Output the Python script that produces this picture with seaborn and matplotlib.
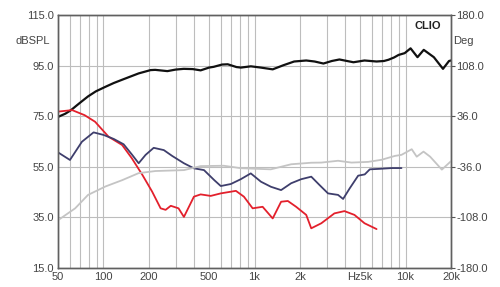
import numpy as np
import pandas as pd
import seaborn as sns
import matplotlib.pyplot as plt
from matplotlib.ticker import FixedLocator, NullLocator

# --- data ----------------------------------------------------------------
spl_f = [50, 56, 61, 67, 72, 79, 89, 103, 117, 133, 150, 171, 205, 220, 265, 300, 340, 390, 440,
         500, 537, 610, 665, 760, 813, 946, 1100, 1320, 1550, 1830, 2200, 2500, 2860,
         3250, 3650, 4100, 4520, 5350, 6430, 7200, 7720, 8400, 9000, 9870, 10800,
         12000, 13200, 15400, 17700, 19400, 20000]
spl_db = [74.7, 76.0, 77.4, 79.4, 80.9, 82.8, 84.8, 86.6, 88.1, 89.4, 90.6, 91.9, 93.2, 93.3, 92.8,
          93.4, 93.7, 93.6, 93.1, 94.2, 94.5, 95.4, 95.5, 94.4, 94.2, 94.7, 94.2, 93.5,
          95.1, 96.6, 97, 96.6, 95.8, 96.8, 97.4, 96.8, 96.3, 97, 96.6, 96.8, 97.3,
          98.2, 99.2, 99.9, 101.8, 98.3, 101.2, 98.3, 93.7, 96.8, 97]

red_f = [50, 62, 75, 88, 108, 133, 154, 181, 210, 239, 258, 279, 314, 341,
         397, 440, 513, 598, 753, 851, 972, 1132, 1320, 1500, 1662, 1887, 2200, 2375,
         2770, 3380, 3940, 4590, 5350, 6430]
red_db = [76.8, 77.4, 75.4, 72.8, 66.9, 63.6, 58.4, 51.8, 45.2, 38.6, 38, 39.6, 38.6, 35.2,
          43.2, 44.1, 43.5, 44.5, 45.5, 43.2, 38.6, 39.2, 34.6, 41.2, 41.5, 39.2, 36, 30.7,
          32.7, 36.6, 37.5, 36, 32.7, 30.4]

blue_f = [50, 60, 72, 86, 100, 117, 136, 155, 171, 190, 215, 251, 285, 341,
          397, 463, 540, 598, 697, 811, 945, 1104, 1286, 1500, 1748, 2037, 2376,
          2695, 3067, 3574, 3860, 4270, 4857, 5370, 5800, 6760, 8090, 9400]
blue_db = [60.7, 57.7, 64.9, 68.6, 67.6, 66, 63.9, 59.7, 56.4, 59.7, 62.5, 61.6, 59.3, 56.4,
           54.4, 53.7, 49.8, 47.4, 48.2, 50.1, 52.4, 49.1, 47.1, 45.8, 48.5, 50.1, 51.1,
           47.8, 44.5, 43.9, 42.3, 46.5, 51.5, 52, 54, 54.2, 54.5, 54.5]

phase_f = [50, 65, 79, 103, 133, 171, 221, 341, 440, 626, 813, 1282, 1748, 2376,
           2770, 3574, 4385, 5660, 6940, 8510, 9400, 10990, 11860, 13150, 14550,
           17400, 19770, 20000]
phase_deg = [-112, -95, -76, -64, -55, -45, -42, -40.7, -35, -34.5, -38, -39.6, -32.4, -30.2,
             -30, -27.4, -30, -29, -26, -20.5, -19, -11, -21.6, -14.4, -21.6,
             -40, -29, -28]

x_grid = [50, 60, 70, 80, 90, 100, 200, 300, 400, 500, 600, 700, 800, 900,
          1000, 2000, 3000, 4000, 5000, 6000, 7000, 8000, 9000, 10000, 20000]
x_labels = {50: "50", 100: "100", 200: "200", 500: "500", 1000: "1k", 2000: "2k",
            5000: "Hz5k", 10000: "10k", 20000: "20k"}
left_ticks = [15, 35, 55, 75, 95, 115]
right_ticks = [-180, -108, -36, 36, 108, 180]

# --- style ------------------------------------------------------------------
sns.set_style("white")
plt.rcParams['font.family'] = ['Liberation Sans', 'DejaVu Sans']
txt = "#444444"

fig = plt.figure(figsize=(5, 2.87), dpi=100)
ax = fig.add_axes([0.116, 0.066, 0.786, 0.882])
ax2 = ax.twinx()

sns.lineplot(x=spl_f, y=spl_db, ax=ax, color="#111111", lw=1.6, estimator=None, sort=False)
sns.lineplot(x=red_f, y=red_db, ax=ax, color="#e3202c", lw=1.3, estimator=None, sort=False)
sns.lineplot(x=blue_f, y=blue_db, ax=ax, color="#3e3e6c", lw=1.3, estimator=None, sort=False)
sns.lineplot(x=phase_f, y=phase_deg, ax=ax2, color="#c4c4c4", lw=1.3, estimator=None, sort=False)

ax.set_xscale("log")
ax.set_xlim(50, 20000)
ax.set_ylim(15, 115)
ax2.set_ylim(-180, 180)

ax.xaxis.set_major_locator(FixedLocator(x_grid))
ax.xaxis.set_minor_locator(NullLocator())
ax.set_xticklabels([x_labels.get(v, "") for v in x_grid])
ax.set_yticks(left_ticks)
ax.set_yticklabels([f"{v:.1f}" for v in left_ticks])
ax2.set_yticks(right_ticks)
ax2.set_yticklabels([f"{v:.1f}" for v in right_ticks])

ax.grid(True, color="#bdbdbd", lw=0.8)
ax.set_axisbelow(True)
ax2.grid(False)
ax.tick_params(axis="both", length=0, labelsize=8, labelcolor=txt, pad=3)
ax2.tick_params(axis="y", length=3, labelsize=8, labelcolor=txt, color="#555555", pad=1)

for a in (ax, ax2):
    for s in a.spines.values():
        s.set_color("#606060")
        s.set_linewidth(1.0)

ax.set_xlabel("")
ax.set_ylabel("")
ax2.set_ylabel("")

fig.text(0.066, 0.856, "dBSPL", fontsize=8, color=txt, ha="center", va="center")
fig.text(0.906, 0.856, "Deg", fontsize=8, color=txt, ha="left", va="center")
ax.text(0.975, 0.955, "CLIO", transform=ax.transAxes, fontsize=8, fontweight="bold",
        color="#222222", ha="right", va="center")

fig.savefig("out.png", dpi=100)
